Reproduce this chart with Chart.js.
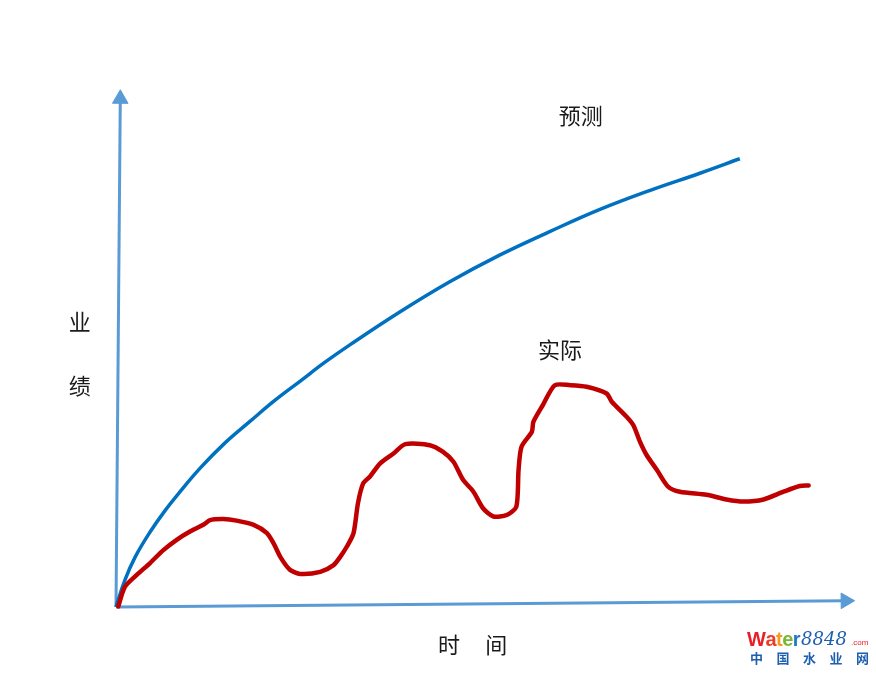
<!DOCTYPE html>
<html>
<head>
<meta charset="utf-8">
<script src="https://cdn.jsdelivr.net/npm/chart.js@4/dist/chart.umd.min.js"></script>
<style>
  html, body { margin: 0; padding: 0; background: #fff; }
  #wrap { width: 876px; height: 673px; position: relative; }
</style>
</head>
<body>
<div id="wrap"><canvas id="myChart" width="876" height="673"></canvas></div>
<script>
// 时间 (0-100) / 业绩 (0-100)
const predictTime = [0, 1.2, 2.6, 4.6, 6.6, 8.6, 11.4, 14.7, 18.1, 21.5, 24.9, 28.2, 31.6, 38.4, 45.1, 51.9, 58.6, 65.4, 72.2, 78.9, 84.3];
const predictPerf = [0, 5.2, 9.7, 14.5, 18.6, 22.2, 26.9, 31.7, 35.9, 40.0, 43.7, 47.3, 50.7, 57.1, 62.9, 68.1, 72.6, 76.9, 80.6, 83.9, 86.7];

const actualTime = [0.3, 1.2, 2.8, 4.6, 6.4, 8.2, 10.0, 11.8, 12.7, 14.5, 16.3, 18.6, 20.4, 21.3, 22.2, 23.5, 24.9, 27.6, 29.4, 30.3, 31.2, 32.1, 32.7, 33.4, 34.3, 35.7, 37.5, 39.1, 42.4, 44.2, 45.6, 46.9, 48.3, 49.6, 51.0, 52.8, 54.1, 54.4, 54.8, 56.2, 56.4, 57.7, 59.3, 61.4, 63.6, 66.3, 67.0, 69.0, 69.9, 70.8, 71.7, 73.1, 74.6, 76.2, 79.8, 82.5, 84.8, 87.5, 90.2, 92.4, 93.6];
const actualPerf = [0.1, 3.9, 6.2, 8.5, 11.0, 13.0, 14.6, 15.9, 16.8, 17.0, 16.7, 15.9, 14.3, 12.3, 9.7, 7.2, 6.4, 6.8, 8.1, 9.7, 11.7, 14.3, 20.1, 23.9, 25.2, 27.8, 29.7, 31.5, 31.3, 30.0, 28.1, 24.6, 22.3, 19.1, 17.5, 17.8, 19.4, 26.5, 31.0, 33.9, 35.8, 39.1, 42.9, 42.9, 42.6, 41.3, 39.7, 36.8, 35.2, 32.0, 29.4, 26.5, 23.3, 22.3, 21.7, 20.8, 20.4, 20.8, 22.3, 23.4, 23.5];

// axis lines (start, arrow head)
const xAxisTime = [0, 98.6];
const xAxisPerf = [0, 1.2];
const yAxisTime = [0, 0.58];
const yAxisPerf = [0, 98.3];

const labels = ['预测', '实际', '业', '绩', '时', '间'];

function pts(xs, ys) {
    return xs.map((x, i) => ({ x: x, y: ys[i] }));
}

const axisColor = '#5b9bd5';

const textPlugin = {
    id: 'texts',
    afterDraw(chart) {
        const ctx = chart.ctx;
        const xs = chart.scales.x;
        const ys = chart.scales.y;
        ctx.save();
        ctx.fillStyle = '#1a1a1a';
        ctx.font = '22px "Noto Sans CJK SC", "Noto Sans", sans-serif';
        ctx.textAlign = 'center';
        ctx.textBaseline = 'middle';
        ctx.fillText(labels[0], xs.getPixelForValue(62.8), ys.getPixelForValue(95.0));
        ctx.fillText(labels[1], xs.getPixelForValue(60.0), ys.getPixelForValue(49.7));
        ctx.fillText(labels[2], xs.getPixelForValue(-4.9), ys.getPixelForValue(55.1));
        ctx.fillText(labels[3], xs.getPixelForValue(-4.9), ys.getPixelForValue(42.9));
        ctx.fillText(labels[4], xs.getPixelForValue(45.0), ys.getPixelForValue(-7.3));
        ctx.fillText(labels[5], xs.getPixelForValue(51.4), ys.getPixelForValue(-7.3));

        // watermark
        ctx.textAlign = 'left';
        ctx.textBaseline = 'alphabetic';
        ctx.font = 'bold 20px "Liberation Sans", Arial, sans-serif';
        const letters = ['W', 'a', 't', 'e', 'r'];
        const colors = ['#e8202a', '#ee3b25', '#f29b1d', '#7ab733', '#1f78c8'];
        let x = 747;
        letters.forEach((c, i) => {
            ctx.fillStyle = colors[i];
            ctx.fillText(c, x, 646);
            x += ctx.measureText(c).width - 0.5;
        });
        ctx.fillStyle = '#1f5fb0';
        ctx.font = 'italic 18px "DejaVu Serif", serif';
        ctx.fillText('8848', x + 1, 645);
        ctx.fillStyle = '#e8202a';
        ctx.font = '8px "Liberation Sans", sans-serif';
        ctx.fillText('.com', 851, 645);
        ctx.fillStyle = '#1f5fb0';
        ctx.font = 'bold 13px "Noto Sans CJK SC", sans-serif';
        const cn = ['中', '国', '水', '业', '网'];
        cn.forEach((c, i) => ctx.fillText(c, 750 + i * 26.5, 663));
        ctx.restore();
    }
};

new Chart(document.getElementById('myChart').getContext('2d'), {
    type: 'scatter',
    data: {
        datasets: [{
            label: '实际',
            data: pts(actualTime, actualPerf),
            showLine: true,
            borderColor: '#c00000',
            borderWidth: 4.5,
            pointRadius: 0,
            tension: 0.25,
            borderCapStyle: 'round',
            borderJoinStyle: 'round',
            clip: false
        }, {
            label: '预测',
            data: pts(predictTime, predictPerf),
            showLine: true,
            borderColor: '#0070c0',
            borderWidth: 3.5,
            pointRadius: 0,
            tension: 0.4,
            clip: false
        }, {
            label: 'x',
            data: pts(xAxisTime, xAxisPerf),
            showLine: true,
            borderColor: axisColor,
            borderWidth: 3,
            pointRadius: [0, 9],
            pointStyle: 'triangle',
            rotation: 89.5,
            pointBackgroundColor: axisColor,
            pointBorderColor: axisColor,
            pointBorderWidth: 1,
            clip: false
        }, {
            label: 'y',
            data: pts(yAxisTime, yAxisPerf),
            showLine: true,
            borderColor: axisColor,
            borderWidth: 3,
            pointRadius: [0, 9],
            pointStyle: 'triangle',
            rotation: 0.5,
            pointBackgroundColor: axisColor,
            pointBorderColor: axisColor,
            pointBorderWidth: 1,
            clip: false
        }]
    },
    options: {
        responsive: false,
        animation: false,
        layout: { padding: { left: 116, right: 20, top: 90, bottom: 66 } },
        scales: {
            x: { type: 'linear', min: 0, max: 100, display: false },
            y: { type: 'linear', min: 0, max: 100, display: false }
        },
        plugins: {
            legend: { display: false },
            tooltip: { enabled: false }
        }
    },
    plugins: [textPlugin]
});
</script>
</body>
</html>
